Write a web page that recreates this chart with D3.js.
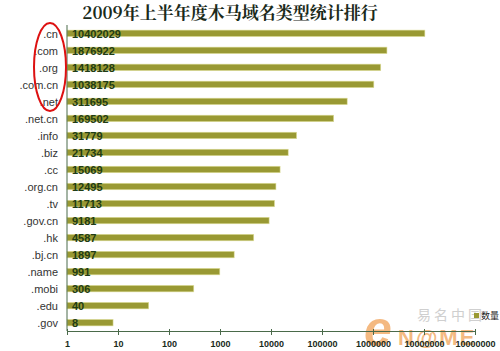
<!DOCTYPE html>
<html>
<head>
<meta charset="utf-8">
<script src="https://cdn.jsdelivr.net/npm/d3@7"></script>
<style>
  body { margin: 0; background: #fff; }
  svg { display: block; }
</style>
</head>
<body>
<div id="chart"></div>
<script>
// data
var domains = [".cn", ".com", ".org", ".com.cn", ".net", ".net.cn", ".info", ".biz", ".cc",
    ".org.cn", ".tv", ".gov.cn", ".hk", ".bj.cn", ".name", ".mobi", ".edu", ".gov"];
var counts = [10402029, 1876922, 1418128, 1038175, 311695, 169502, 31779, 21734, 15069,
    12495, 11713, 9181, 4587, 1897, 991, 306, 40, 8];
var tickValues = [1, 10, 100, 1000, 10000, 100000, 1000000, 10000000, 100000000];
var tickLabels = ["1", "10", "100", "1000", "10000", "100000", "1000000", "10000000", "10000000"];

var W = 500, H = 351;
var margin = { top: 25, right: 25, bottom: 20, left: 67 };
var width = W - margin.left - margin.right;
var height = H - margin.top - margin.bottom;

var svg = d3.select("#chart").append("svg")
    .attr("width", W)
    .attr("height", H);

// watermark sits behind everything
var wm = svg.append("g").attr("opacity", 0.8);
wm.append("text")
    .attr("x", 417).attr("y", 320)
    .attr("font-family", "'Noto Sans CJK SC', sans-serif")
    .attr("font-size", 14)
    .attr("fill", "#c4c4c4")
    .attr("letter-spacing", 3)
    .text("易名中国");
wm.append("text")
    .attr("x", 364).attr("y", 346)
    .attr("font-family", "Arial, sans-serif")
    .attr("font-size", 50)
    .attr("font-weight", "bold")
    .attr("font-style", "italic")
    .attr("fill", "#f2a862")
    .text("e");
wm.append("text")
    .attr("x", 398).attr("y", 345)
    .attr("font-family", "Arial, sans-serif")
    .attr("font-size", 22)
    .attr("font-weight", "bold")
    .attr("letter-spacing", 2)
    .attr("fill", "#f2a862")
    .text("N@ME");

var g = svg.append("g")
    .attr("transform", "translate(" + margin.left + "," + margin.top + ")");

var x = d3.scaleLog().domain([1, 100000000]).range([0, 408]);
var y = d3.scaleBand().domain(domains).range([0, height]).paddingInner(0.62).paddingOuter(0.3);

var data = domains.map(function (d, i) { return { name: d, value: counts[i] }; });

g.selectAll("rect.bar")
    .data(data)
    .enter().append("rect")
    .attr("class", "bar")
    .attr("x", 0)
    .attr("y", function (d) { return y(d.name); })
    .attr("width", function (d) { return x(d.value); })
    .attr("height", y.bandwidth())
    .attr("fill", "#999933")
    .attr("stroke", "#dede9a")
    .attr("stroke-width", 0.6);

g.selectAll("text.val")
    .data(data)
    .enter().append("text")
    .attr("class", "val")
    .attr("x", 5)
    .attr("y", function (d) { return y(d.name) + y.bandwidth() / 2; })
    .attr("dy", "0.38em")
    .attr("font-family", "Arial, 'Liberation Sans', sans-serif")
    .attr("font-size", 11)
    .attr("font-weight", "bold")
    .attr("fill", "#1f3d14")
    .text(function (d) { return d.value; });

// category labels
g.selectAll("text.cat")
    .data(domains)
    .enter().append("text")
    .attr("class", "cat")
    .attr("x", -9)
    .attr("y", function (d) { return y(d) + y.bandwidth() / 2; })
    .attr("dy", "0.38em")
    .attr("text-anchor", "end")
    .attr("font-family", "Arial, 'Liberation Sans', sans-serif")
    .attr("font-size", 11)
    .attr("fill", "#333")
    .text(function (d) { return d; });

// axes
g.append("line")
    .attr("x1", 0).attr("x2", 0)
    .attr("y1", 0).attr("y2", height)
    .attr("stroke", "#4a6a4a");

var xAxis = g.append("g")
    .attr("transform", "translate(0," + height + ")")
    .call(d3.axisBottom(x).tickValues(tickValues).tickSize(4).tickSizeOuter(0)
        .tickFormat(function (d, i) { return tickLabels[i]; }));
xAxis.select(".domain").attr("stroke", "#4a6a4a");
xAxis.selectAll(".tick line").attr("stroke", "#4a6a4a").attr("y1", -2);
xAxis.selectAll(".tick text")
    .attr("font-family", "Arial, 'Liberation Sans', sans-serif")
    .attr("font-size", 9)
    .attr("font-weight", "bold")
    .attr("fill", "#1a2a1a")
    .attr("dy", "0.95em");

// title
svg.append("text")
    .attr("x", 230)
    .attr("y", 19)
    .attr("text-anchor", "middle")
    .attr("font-family", "'Noto Serif CJK SC', 'Noto Sans CJK SC', serif")
    .attr("font-size", 17)
    .attr("font-weight", "bold")
    .attr("fill", "#1a2a1a")
    .text("2009年上半年度木马域名类型统计排行");

// red ellipse around top five
svg.append("ellipse")
    .attr("cx", 50)
    .attr("cy", 67)
    .attr("rx", 16)
    .attr("ry", 44)
    .attr("fill", "none")
    .attr("stroke", "#dd1111")
    .attr("stroke-width", 2);

// legend
svg.append("rect")
    .attr("x", 474).attr("y", 313)
    .attr("width", 5).attr("height", 5)
    .attr("fill", "#999933");
svg.append("text")
    .attr("x", 481).attr("y", 319)
    .attr("font-family", "'Noto Sans CJK SC', sans-serif")
    .attr("font-size", 9)
    .attr("fill", "#222")
    .text("数量");
</script>
</body>
</html>
